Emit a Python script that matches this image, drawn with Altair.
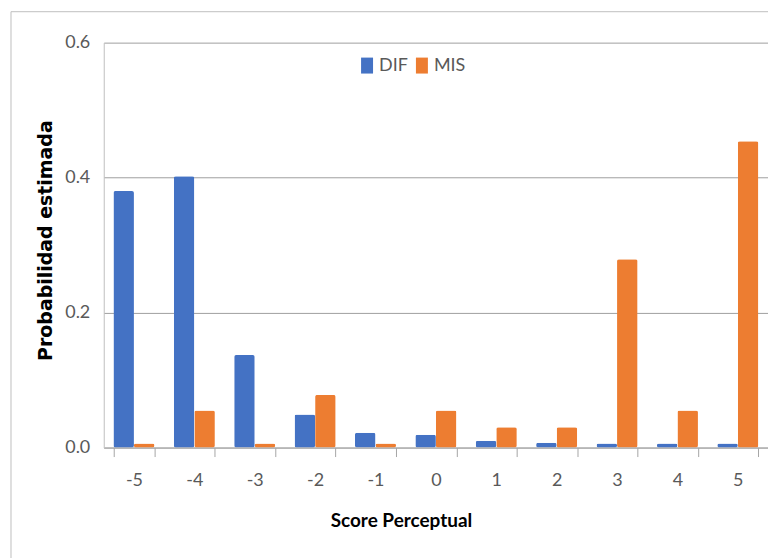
import altair as alt
import pandas as pd

scores = [-5, -4, -3, -2, -1, 0, 1, 2, 3, 4, 5]
dif = [0.380, 0.402, 0.137, 0.049, 0.022, 0.019, 0.010, 0.007, 0.006, 0.006, 0.006]
mis = [0.006, 0.055, 0.006, 0.078, 0.006, 0.055, 0.030, 0.030, 0.279, 0.055, 0.454]
series = ["DIF", "MIS"]
colors = ["#4472C4", "#ED7D31"]

rows = []
for s, d, m in zip(scores, dif, mis):
    rows.append({"score": str(s), "serie": "DIF", "valor": d})
    rows.append({"score": str(s), "serie": "MIS", "valor": m})
df = pd.DataFrame(rows)

FONT = "Lato"
order = [str(s) for s in scores]

bars = alt.Chart(df).mark_bar(cornerRadius=2).encode(
    x=alt.X("score:N", sort=order,
            scale=alt.Scale(paddingInner=0.32, paddingOuter=0.16),
            axis=alt.Axis(title="Score Perceptual", labelAngle=0, tickBand="extent",
                          domainColor="#a6a6a6", tickColor="#a6a6a6", tickSize=9,
                          labelPadding=15, labelFontSize=18, labelColor="#595959",
                          labelFont=FONT, titleFont=FONT, titleFontSize=19,
                          titleFontWeight="bold", titleColor="#000000", titlePadding=22,
                          titleX=298, grid=False)),
    xOffset=alt.XOffset("serie:N", sort=series),
    y=alt.Y("valor:Q", scale=alt.Scale(domain=[0, 0.6]),
            axis=alt.Axis(title="Probabilidad estimada", values=[0, 0.2, 0.4, 0.6],
                          format=".1f", ticks=False, labelPadding=14,
                          labelFontSize=18, labelColor="#595959", labelFont=FONT,
                          titleFont="DejaVu Sans", titleFontSize=19, titleFontWeight="bold",
                          titleColor="#000000", titlePadding=9, titleY=198,
                          domainColor="#bfbfbf", gridColor="#a0a0a0")),
    color=alt.Color("serie:N", sort=series,
                    scale=alt.Scale(domain=series, range=colors),
                    legend=alt.Legend(title=None, orient="none", legendX=255, legendY=14,
                                      direction="horizontal",
                                      symbolType="M-0.75,-1H0.75V1H-0.75Z",
                                      symbolSize=256, symbolStrokeWidth=0,
                                      labelFontSize=18, labelColor="#595959",
                                      labelFont=FONT, columnPadding=5, labelOffset=3)),
)

frame = alt.Chart(pd.DataFrame({"a": [0]})).mark_rect(
    fill=None, stroke="#bfbfbf", strokeWidth=1, clip=False
).encode(x=alt.value(-93), x2=alt.value(700), y=alt.value(-31), y2=alt.value(600))

chart = alt.layer(frame, bars).properties(
    width=666, height=406,
    autosize=alt.AutoSizeParams(type="none"),
    padding={"left": 96, "top": 34, "right": 0, "bottom": 110},
).configure_view(stroke=None)

chart.save("out.html", embed_options={"renderer": "svg", "actions": False})
